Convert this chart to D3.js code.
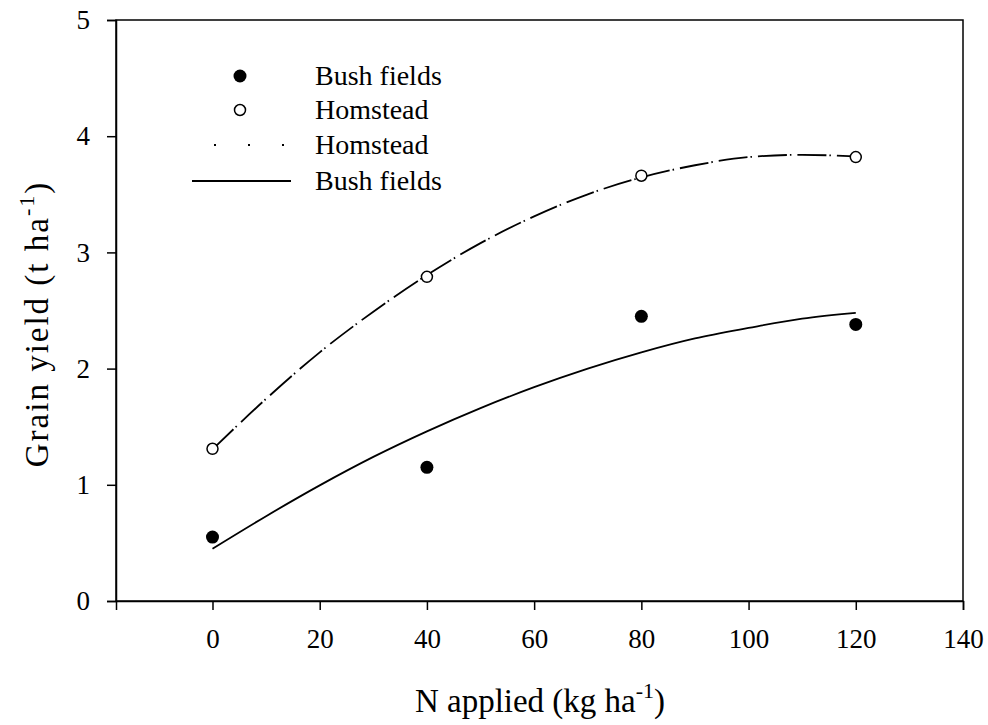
<!DOCTYPE html>
<html><head><meta charset="utf-8">
<script src="https://cdn.jsdelivr.net/npm/d3@7"></script>
<style>body{margin:0;background:#fff}svg{display:block}</style>
</head><body>
<svg id="c" width="988" height="725"></svg>
<script>
// Observed data
const nRates = [0, 40, 80, 120];
const bushYield = [0.55, 1.15, 2.45, 2.38];
const homsteadYield = [1.31, 2.79, 3.66, 3.82];
// Fitted curves
const curveX = [0, 10, 20, 30, 40, 50, 60, 70, 80, 90, 100, 110, 120];
const bushCurve = [0.45, 0.73, 0.995, 1.24, 1.46, 1.66, 1.84, 2.0, 2.14, 2.26, 2.35, 2.43, 2.48];
const homsteadCurve = [1.305, 1.74, 2.14, 2.49, 2.805, 3.08, 3.31, 3.50, 3.645, 3.75, 3.82, 3.84, 3.825];
const xTicks = [0, 20, 40, 60, 80, 100, 120, 140];
const yTicks = [0, 1, 2, 3, 4, 5];
const legendLabels = ["Bush fields", "Homstead", "Homstead", "Bush fields"];

const FONT = '"Liberation Serif", Tinos, "Times New Roman", serif';
const svg = d3.select("#c");
const L = 116, R = 963, T = 20, B = 601;
const x = d3.scaleLinear().domain([-18, 140]).range([L, R]);
const y = d3.scaleLinear().domain([0, 5]).range([B, T]);

// frame
svg.append("rect").attr("x", L).attr("y", T).attr("width", R - L).attr("height", B - T)
  .attr("fill", "none").attr("stroke", "#000").attr("stroke-width", 1.5);

const xAxis = svg.append("g").attr("transform", `translate(0,${B})`)
  .call(d3.axisBottom(x).tickValues(xTicks).tickSize(9).tickPadding(19).tickFormat(d3.format("d")));
const yAxis = svg.append("g").attr("transform", `translate(${L},0)`)
  .call(d3.axisLeft(y).tickValues(yTicks).tickSize(9).tickPadding(17).tickFormat(d3.format("d")));
[xAxis, yAxis].forEach(g => {
  g.attr("font-family", null);
  g.select(".domain").attr("stroke-width", 1.5);
  g.selectAll(".tick line").attr("stroke-width", 1.5);
  g.selectAll("text").style("font-family", FONT).style("font-size", "27px").attr("fill", "#000");
});

// curves
const line = d3.line().x(d => x(d[0])).y(d => y(d[1])).curve(d3.curveMonotoneX);
svg.append("path").datum(d3.zip(curveX, homsteadCurve)).attr("d", line)
  .attr("fill", "none").attr("stroke", "#000").attr("stroke-width", 1.8)
  .attr("stroke-dasharray", "29,3,1.5,6");
svg.append("path").datum(d3.zip(curveX, bushCurve)).attr("d", line)
  .attr("fill", "none").attr("stroke", "#000").attr("stroke-width", 1.8);

// points
svg.append("g").selectAll("circle").data(d3.zip(nRates, bushYield)).join("circle")
  .attr("cx", d => x(d[0])).attr("cy", d => y(d[1])).attr("r", 6.5).attr("fill", "#000");
svg.append("g").selectAll("circle").data(d3.zip(nRates, homsteadYield)).join("circle")
  .attr("cx", d => x(d[0])).attr("cy", d => y(d[1])).attr("r", 5.5)
  .attr("fill", "#fff").attr("stroke", "#000").attr("stroke-width", 1.5);

// legend
const rows = [76, 110, 145, 181];
const lg = svg.append("g");
lg.append("circle").attr("cx", 240).attr("cy", rows[0]).attr("r", 6.5).attr("fill", "#000");
lg.append("circle").attr("cx", 240).attr("cy", rows[1]).attr("r", 5.5).attr("fill", "#fff").attr("stroke", "#000").attr("stroke-width", 1.5);
lg.append("line").attr("x1", 214).attr("x2", 284).attr("y1", rows[2]).attr("y2", rows[2])
  .attr("stroke", "#000").attr("stroke-width", 2).attr("stroke-dasharray", "2,32");
lg.append("line").attr("x1", 192).attr("x2", 291).attr("y1", rows[3]).attr("y2", rows[3])
  .attr("stroke", "#000").attr("stroke-width", 1.8);
lg.selectAll("text").data(legendLabels).join("text")
  .attr("x", 315).attr("y", (d, i) => rows[i] + 9).style("font-family", FONT).style("font-size", "28px").text(d => d);

// axis titles
const xt = svg.append("text").attr("x", 540).attr("y", 712).attr("text-anchor", "middle")
  .style("font-family", FONT).style("font-size", "33px");
xt.append("tspan").text("N applied (kg ha");
xt.append("tspan").attr("dy", -14).style("font-size", "22px").text("-1");
xt.append("tspan").attr("dy", 14).text(")");

const yt = svg.append("text").attr("transform", "translate(48,324) rotate(-90)").attr("text-anchor", "middle")
  .style("font-family", FONT).style("font-size", "33px").style("letter-spacing", "2px");
yt.append("tspan").text("Grain yield (t ha");
yt.append("tspan").attr("dy", -14).style("font-size", "22px").text("-1");
yt.append("tspan").attr("dy", 14).text(")");
</script>
</body></html>
